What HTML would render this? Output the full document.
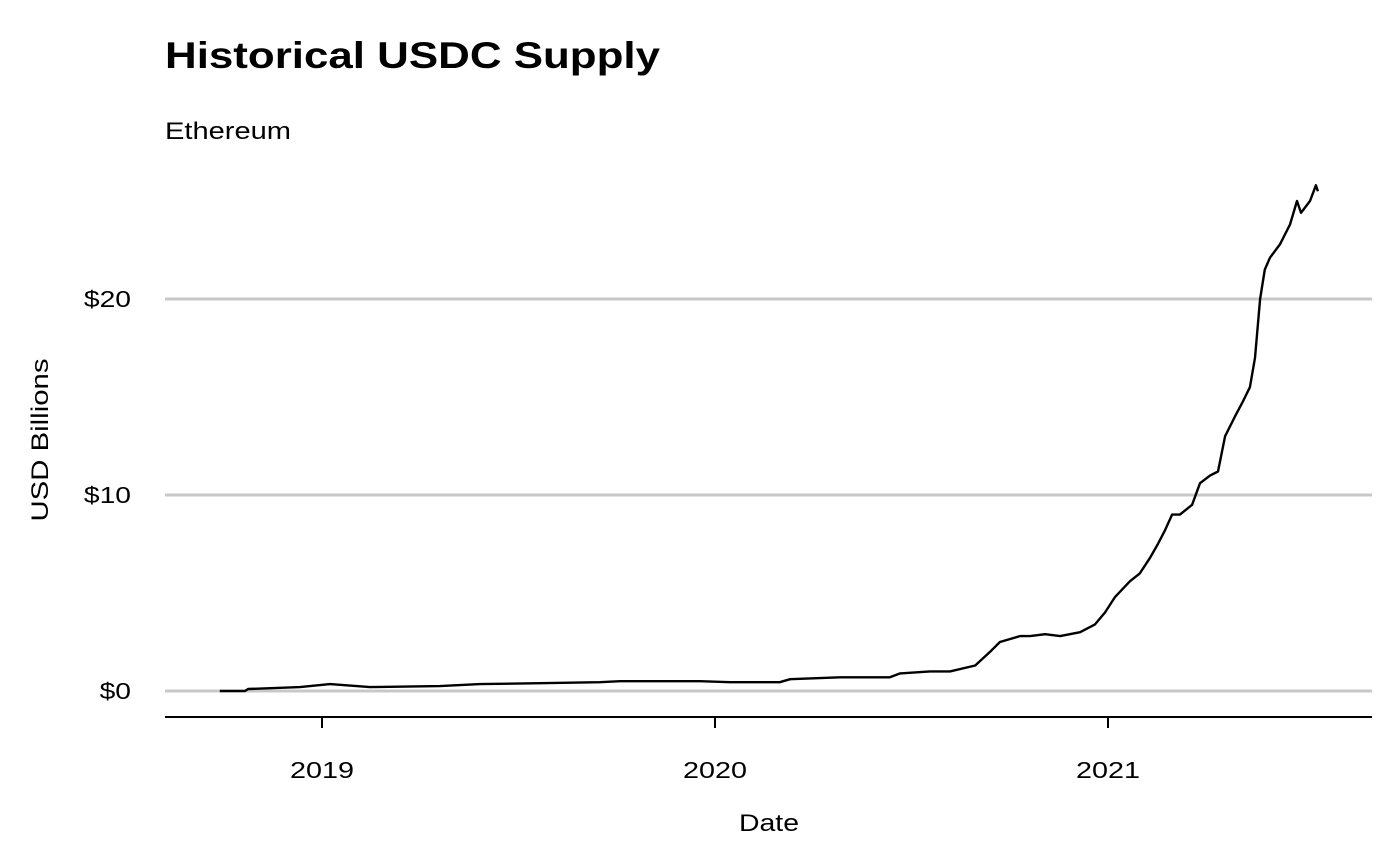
<!DOCTYPE html>
<html><head><meta charset="utf-8"><style>
html,body{margin:0;padding:0;background:#fff;}
svg{display:block;font-family:"Liberation Sans",Arial,sans-serif;}
</style></head><body>
<svg id="chart" width="1400" height="866" viewBox="0 0 1400 866">
  <text x="165" y="68" font-size="37" font-weight="bold" fill="#000" textLength="495" lengthAdjust="spacingAndGlyphs">Historical USDC Supply</text>
  <text x="165" y="139" font-size="24" fill="#000" textLength="126" lengthAdjust="spacingAndGlyphs">Ethereum</text>
  <g id="grid"></g>
  <g id="yticks"></g>
  <line x1="165" y1="717" x2="1372" y2="717" stroke="#000" stroke-width="2"/>
  <g id="xticks"></g>
  <path id="line" fill="none" stroke="#000" stroke-width="2.4" stroke-linejoin="round"/>
  <text x="769" y="831" font-size="24" text-anchor="middle" fill="#000" textLength="60" lengthAdjust="spacingAndGlyphs">Date</text>
  <text transform="translate(48,440) rotate(-90)" font-size="24" text-anchor="middle" fill="#000" textLength="163" lengthAdjust="spacingAndGlyphs">USD Billions</text>
</svg>
<script>
const dates = [2018.740,2018.804,2018.812,2018.944,2019.020,2019.122,2019.300,2019.402,2019.555,2019.707,2019.758,2019.962,2020.038,2020.165,2020.191,2020.318,2020.445,2020.471,2020.547,2020.598,2020.662,2020.700,2020.725,2020.776,2020.802,2020.840,2020.878,2020.929,2020.967,2020.992,2021.018,2021.056,2021.081,2021.107,2021.127,2021.145,2021.163,2021.183,2021.214,2021.234,2021.260,2021.280,2021.298,2021.323,2021.344,2021.361,2021.374,2021.387,2021.399,2021.412,2021.438,2021.463,2021.481,2021.491,2021.514,2021.529,2021.534];
const supply = [0.0,0.0,0.1,0.2,0.35,0.2,0.25,0.35,0.4,0.45,0.5,0.5,0.45,0.45,0.6,0.7,0.7,0.9,1.0,1.0,1.3,2.0,2.5,2.8,2.8,2.9,2.8,3.0,3.4,4.0,4.8,5.6,6.0,6.8,7.5,8.2,9.0,9.0,9.5,10.6,11.0,11.2,13.0,14.0,14.8,15.5,17.0,20.0,21.5,22.1,22.8,23.8,25.0,24.4,25.0,25.8,25.5];
const yTicks = [0,10,20];
const yTickLabels = ["$0","$10","$20"];
const xTicks = [2019,2020,2021];
const xTickLabels = ["2019","2020","2021"];

const NS="http://www.w3.org/2000/svg";
const xs = t => 322 + (t-2019)*393;
const ys = v => 691 - v*19.6;
const grid=document.getElementById('grid'), yt=document.getElementById('yticks'), xt=document.getElementById('xticks');
yTicks.forEach((v,i)=>{
  const l=document.createElementNS(NS,'line');
  l.setAttribute('x1',165);l.setAttribute('x2',1372);l.setAttribute('y1',ys(v));l.setAttribute('y2',ys(v));
  l.setAttribute('stroke','#c8c8c8');l.setAttribute('stroke-width','3');
  
  
  grid.appendChild(l);
  const t=document.createElementNS(NS,'text');
  t.setAttribute('x',131);t.setAttribute('y',ys(v)+8);t.setAttribute('font-size','23');t.setAttribute('text-anchor','end');
  t.setAttribute('textLength', yTickLabels[i].length*15.7);t.setAttribute('lengthAdjust','spacingAndGlyphs');
  t.textContent=yTickLabels[i];
  
  
  yt.appendChild(t);
});
xTicks.forEach((v,i)=>{
  const l=document.createElementNS(NS,'line');
  l.setAttribute('x1',xs(v));l.setAttribute('x2',xs(v));l.setAttribute('y1',717);l.setAttribute('y2',728);
  l.setAttribute('stroke','#000');l.setAttribute('stroke-width','2');
  
  
  xt.appendChild(l);
  const t=document.createElementNS(NS,'text');
  t.setAttribute('x',xs(v));t.setAttribute('y',778);t.setAttribute('font-size','23');t.setAttribute('text-anchor','middle');
  t.setAttribute('textLength',64);t.setAttribute('lengthAdjust','spacingAndGlyphs');
  t.textContent=xTickLabels[i];
  
  
  xt.appendChild(t);
});
document.getElementById('line').setAttribute('d', dates.map((d,i)=>(i?'L':'M')+xs(d).toFixed(1)+','+ys(supply[i]).toFixed(1)).join(' '));
</script>
</body></html>
